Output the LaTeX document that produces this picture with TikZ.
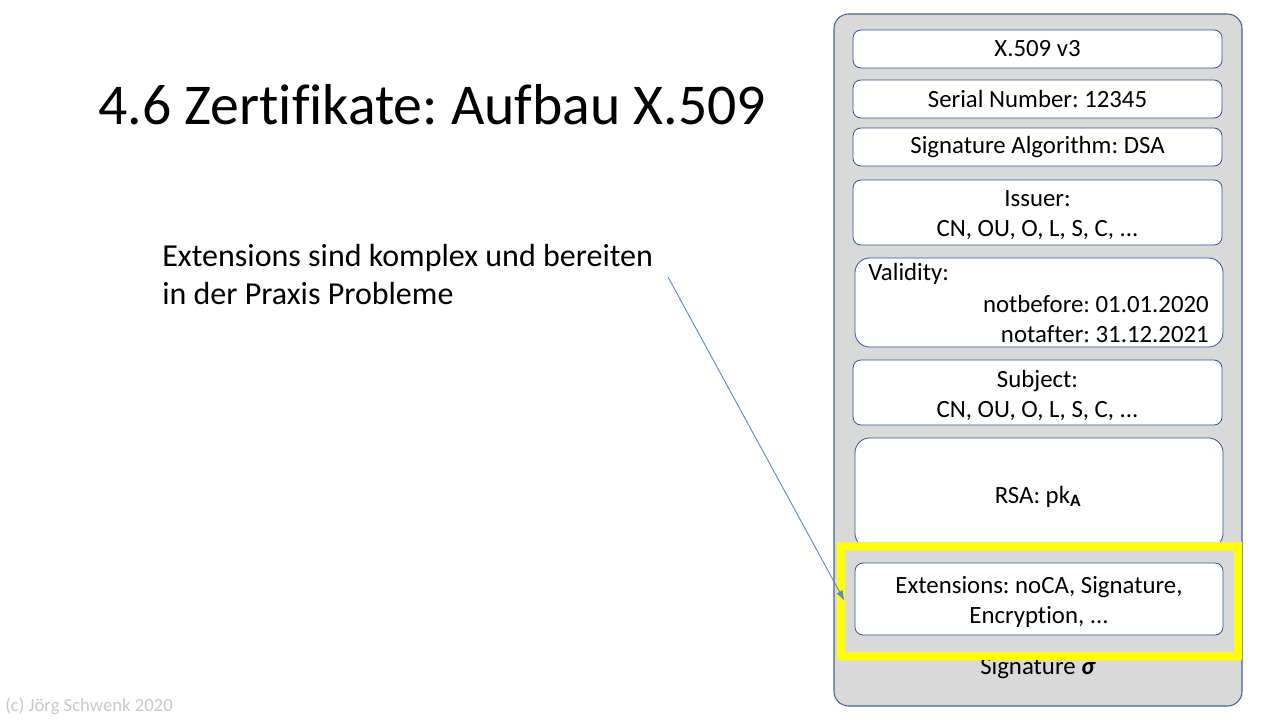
\documentclass[tikz,border=0pt]{standalone}
\usepackage{fontspec}
\setmainfont{Carlito}[Ligatures={TeX,NoCommon}]
\usetikzlibrary{arrows.meta,fit}
\definecolor{outerfill}{RGB}{217,217,217}
\definecolor{outerline}{RGB}{68,100,150}
\definecolor{boxline}{RGB}{47,85,151}
\definecolor{arrowblue}{RGB}{91,140,200}
\definecolor{footgray}{RGB}{200,200,200}
\definecolor{hiyellow}{RGB}{255,255,0}
\tikzset{
  outerbox/.style={draw=outerline, fill=outerfill, line width=0.8pt, rounded corners=11pt, inner sep=0pt},
  fieldbox/.style={draw=boxline, fill=white, line width=0.6pt, rounded corners=6pt, inner sep=0pt},
  bigbox/.style={fieldbox, rounded corners=11pt},
  fieldtext/.style={inner sep=0pt, align=center, font=\fontsize{18.6}{22.5}\selectfont},
  twoline/.style={fieldtext, yshift=-2pt},
  highlight/.style={draw=hiyellow, line width=6pt},
  pointer/.style={draw=arrowblue, line width=0.7pt, -{Triangle[length=7pt,width=5pt]}},
}
\begin{document}
\frenchspacing
\begin{tikzpicture}[x=0.75pt,y=-0.75pt]
\useasboundingbox (0,0) rectangle (1280,720);
% title
\node[anchor=base west, inner sep=0pt, font=\fontsize{43.3}{50}\selectfont] (title) at (98,125) {4.6 Zertifikate: Aufbau X.509};
% body text
\node[anchor=north west, inner sep=0pt, align=left, font=\fontsize{24}{28.5}\selectfont] (txt) at (162,244) {Extensions sind komplex und bereiten\\in der Praxis Probleme};
% footer
\node[anchor=base west, inner sep=0pt, text=footgray, font=\fontsize{14}{16}\selectfont] (foot) at (5,711) {(c) Jörg Schwenk 2020};
% outer certificate
\node[outerbox, fit={(834,14) (1242,706)}] (cert) {};
\node[fieldbox, fit={(853,30) (1222,68)}] (ver) {};
\node[fieldtext] at (ver.center) {X.509 v3};
\node[fieldbox, fit={(853,80) (1222,118)}] (ser) {};
\node[fieldtext] at (ser.center) {Serial Number: 12345};
\node[fieldbox, fit={(853,128) (1222,166)}] (alg) {};
\node[fieldtext] at (alg.center) {Signature Algorithm: DSA};
\node[fieldbox, fit={(853,180) (1222,245)}] (iss) {};
\node[twoline] at (iss.center) {Issuer:\\CN, OU, O, L, S, C, ...};
\node[bigbox, fit={(855,258) (1223,347)}] (val) {};
\node[fieldtext, anchor=base west] (valt) at (868,280) {Validity:};
\node[fieldtext, anchor=base east] (valb) at (1209,312) {notbefore: 01.01.2020};
\node[fieldtext, anchor=base east] (vala) at (1209,342) {notafter: 31.12.2021};
\node[fieldbox, fit={(853,360) (1222,425)}] (sub) {};
\node[twoline] at (sub.center) {Subject:\\CN, OU, O, L, S, C, ...};
\node[bigbox, fit={(855,438) (1223,548)}] (pk) {};
\node[fieldtext, anchor=base] at (1038,503) {RSA: pk\textsubscript{\textbf{A}}};
\node[fieldbox, fit={(855,563) (1223,635)}] (ext) {};
\node[twoline] at (ext.center) {Extensions: noCA, Signature,\\Encryption, ...};
\node[fieldtext, anchor=base] (sig) at (1038,674) {Signature \textbf{\textit{σ}}};
% highlight
\node[highlight, fit={(841,546) (1238,656)}, inner sep=0pt] (hl) {};
% pointer
\coordinate (from) at (668,277);
\coordinate (to) at (844,600);
\draw[pointer] (from) -- (to);
\end{tikzpicture}
\end{document}
